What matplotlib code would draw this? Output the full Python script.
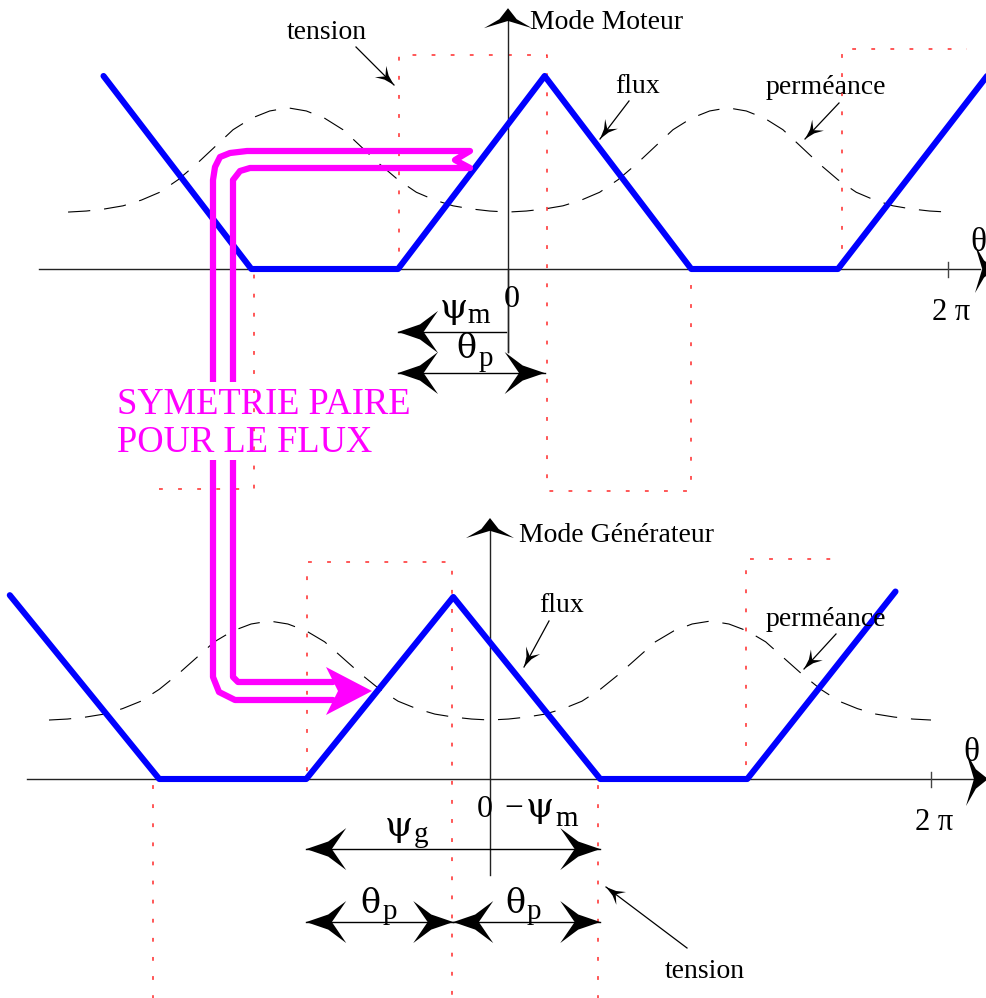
import numpy as np
import matplotlib.pyplot as plt
from matplotlib.patches import Polygon, Rectangle

SERIF = ['Liberation Serif', 'DejaVu Serif']
GREEK = ['DejaVu Serif']

W, H = 987, 998

# ---- data (angles in degrees, amplitudes in flux units) ----
# top panel : Mode Moteur
top_flux_deg = [-331, -210, -90, 30, 150, 270, 392]
top_flux_val = [1.0, 0.0, 0.0, 1.0, 0.0, 0.0, 1.0]
top_tension_deg = [-286, -208, -208, -89, -89, 32, 32, 150, 150, 273, 273, 376]
top_tension_val = [-1.14, -1.14, 0, 0, 1.11, 1.11, -1.15, -1.15, 0, 0, 1.14, 1.14]
top_perm_base, top_perm_amp = 0.295, 0.54

# bottom panel : Mode Generateur
bot_flux_deg = [-392, -270, -150, -30, 90, 210, 331]
bot_flux_val = [1.01, 0.0, 0.0, 1.0, 0.0, 0.0, 1.03]
bot_tension_deg = [-275, -275, -149, -149, -31, -31, 88, 88, 209, 209, 286]
bot_tension_val = [-1.25, 0, 0, 1.19, 1.19, -1.25, -1.25, 0, 0, 1.21, 1.21]
bot_perm_base, bot_perm_amp = 0.324, 0.544

# permeance profile: offset from a maximum (deg) -> relative value
perm_offset = [0, 15, 30, 45, 60, 75, 90, 105, 120, 135, 150, 165, 180]
perm_shape = [1.0, 0.97, 0.90, 0.79, 0.625, 0.46, 0.31, 0.19, 0.115, 0.06, 0.03, 0.01, 0.0]
perm_peaks = [-180, 180]

theta_p = 120
psi_m = 90


def perm_curve(base, amp):
    d, v = [], []
    for pk in perm_peaks:
        for o, s in zip(perm_offset[::-1], perm_shape[::-1]):
            d.append(pk - o); v.append(base + amp * s)
        for o, s in zip(perm_offset[1:], perm_shape[1:]):
            d.append(pk + o); v.append(base + amp * s)
    return d, v


fig = plt.figure(figsize=(W / 100, H / 100), dpi=100)


def panel(x0, sx, yb, ky):
    ax = fig.add_axes([0, 0, 1, 1])
    ax.set_xlim(-x0 / sx, (W - x0) / sx)
    ax.set_ylim((yb - H) / ky, yb / ky)
    ax.axis('off')
    ax.patch.set_alpha(0)
    return ax


ax_top = panel(508, 1.222, 269, 193)
ax_bot = panel(490, 1.225, 779, 182)
ax = fig.add_axes([0, 0, 1, 1])
ax.set_xlim(0, W)
ax.set_ylim(H, 0)
ax.axis('off')
ax.patch.set_alpha(0)


def px(a, x, y):
    return ax.transData.inverted().transform(a.transData.transform((x, y)))


def chevron(tip, d, L, w, color='black', z=6):
    tip = np.array(tip, float)
    d = np.array(d, float)
    d = d / np.hypot(*d)
    n = np.array([-d[1], d[0]])
    pts = [tip,
           tip - 0.55 * L * d + 0.36 * w * n,
           tip - L * d + w * n,
           tip - 0.64 * L * d,
           tip - L * d - w * n,
           tip - 0.55 * L * d - 0.36 * w * n]
    ax.add_patch(Polygon(pts, closed=True, color=color, lw=0, zorder=z))


# ---- curves ----
for a, fd, fv, td, tv, (pb, pa) in [
        (ax_top, top_flux_deg, top_flux_val, top_tension_deg, top_tension_val, (top_perm_base, top_perm_amp)),
        (ax_bot, bot_flux_deg, bot_flux_val, bot_tension_deg, bot_tension_val, (bot_perm_base, bot_perm_amp))]:
    pd_, pv = perm_curve(pb, pa)
    a.plot(pd_, pv, color='black', lw=0.8, dashes=(20, 12.5), zorder=2)
    a.plot(td, tv, color='#ff2a2a', lw=1.1, dashes=(2.5, 10), zorder=3)
    a.plot(fd, fv, color='#0000ff', lw=4.4, solid_capstyle='round', zorder=4)

# ---- axes ----
for a, xl, yl, tipx, Lh, wh in [(ax_top, (-384, 386), (-0.43, 1.31), 995, 20, 24),
                                (ax_bot, (-378, 395), (-0.53, 1.39), 988, 22, 27)]:
    a.plot(xl, [0, 0], color='#222222', lw=1.0, zorder=3)
    a.plot([0, 0], yl, color='#222222', lw=1.0, zorder=3)
    x2, y0 = px(a, 360, 0)
    ax.plot([x2, x2], [y0 - 7, y0 + 8], color='#444444', lw=1.0)
    ax.text(x2 + 3, y0 + 51, '2 π', fontsize=22, family=SERIF, ha='center', va='baseline')
    chevron((tipx, y0), (1, 0), Lh, wh)
    xv, yv = px(a, 0, yl[1])
    chevron((xv, yv - 8), (0, -1), 20, 24)

ax.text(970, 251, 'θ', fontsize=24, family=SERIF, ha='left', va='baseline')
ax.text(963, 761, 'θ', fontsize=24, family=SERIF, ha='left', va='baseline')
ax.text(530, 29, 'Mode Moteur', fontsize=20, family=SERIF, va='baseline')
ax.text(519, 542, 'Mode Générateur', fontsize=20, family=SERIF, va='baseline')


# ---- dimension arrows ----
def dim(a, x1, x2, y, left=True, right=True):
    (p1x, py), (p2x, _) = px(a, x1, y), px(a, x2, y)
    ax.plot([p1x, p2x], [py, py], color='black', lw=1.0, zorder=5)
    if left:
        chevron((p1x, py), (-1, 0), 40, 21)
    if right:
        chevron((p2x, py), (1, 0), 40, 21)


dim(ax_top, -psi_m, -2, -0.326, right=False)
dim(ax_top, -psi_m, -psi_m + theta_p, -0.539)
ax_top.plot([0, 0], [0, -0.43], color='#222222', lw=1.0)
dim(ax_bot, -150, 90, -0.385)
dim(ax_bot, -150, -150 + theta_p, -0.786)
dim(ax_bot, -30, -30 + theta_p, -0.786)


def sym(x, base, letter, sub, sx, sbase, size=24):
    ax.text(x, base, letter, fontsize=size, family=GREEK, va='baseline', zorder=9)
    ax.text(sx, sbase, sub, fontsize=21, family=SERIF, va='baseline', zorder=9)


sym(440, 318, 'ψ', 'm', 467, 323, size=26)
sym(456, 358, 'θ', 'p', 479, 366)
sym(385, 836, 'ψ', 'g', 414, 842, size=26)
sym(360, 913, 'θ', 'p', 383, 919)
sym(505, 913, 'θ', 'p', 527, 919)
sym(526, 817, 'ψ', 'm', 555, 826, size=26)
ax.text(504, 817, '−', fontsize=24, family=SERIF, va='baseline')
ax.text(512, 307, '0', fontsize=23, family=SERIF, ha='center', va='baseline')
ax.text(485, 817, '0', fontsize=23, family=SERIF, ha='center', va='baseline')


# ---- labels with pointers ----
def label(txt, tx, ty, p0, p1):
    ax.text(tx, ty, txt, fontsize=20, family=SERIF, ha='center', va='baseline')
    ax.plot([p0[0], p1[0]], [p0[1], p1[1]], color='black', lw=0.9)
    chevron(p1, (p1[0] - p0[0], p1[1] - p0[1]), 19, 8)


label('tension', 327, 39, (356, 47), (394, 85))
label('flux', 638, 93, (629, 101), (600, 139))
label('perméance', 826, 94, (839, 103), (805, 139))
label('flux', 562, 612, (549, 621), (524, 667))
label('perméance', 826, 626, (836, 634), (804, 669))
label('tension', 705, 978, (687, 948), (606, 887))

# ---- magenta symmetry arrow ----
mag_x = [333, 235, 219, 213, 213, 215, 220, 230, 247, 470, 455, 470, 250, 240, 233, 233, 238, 333]
mag_y = [700, 700, 692, 677, 180, 167, 157, 153, 151, 151, 160, 168, 168, 171, 180, 677, 682, 682]
ax.plot(mag_x, mag_y, color='#ff00ff', lw=4.5, solid_joinstyle='round', solid_capstyle='round', zorder=7)
ax.add_patch(Polygon([(372, 691), (326, 667), (338, 691), (326, 715)], closed=True,
                     color='#ff00ff', lw=0, zorder=7))
ax.add_patch(Rectangle((204, 382), 40, 78, color='white', lw=0, zorder=8))
ax.text(117, 414, 'SYMETRIE PAIRE', fontsize=26.3, family=SERIF, color='#ff00ff', zorder=9)
ax.text(117, 452, 'POUR LE FLUX', fontsize=26.3, family=SERIF, color='#ff00ff', zorder=9)

fig.savefig('out.png', dpi=100)
